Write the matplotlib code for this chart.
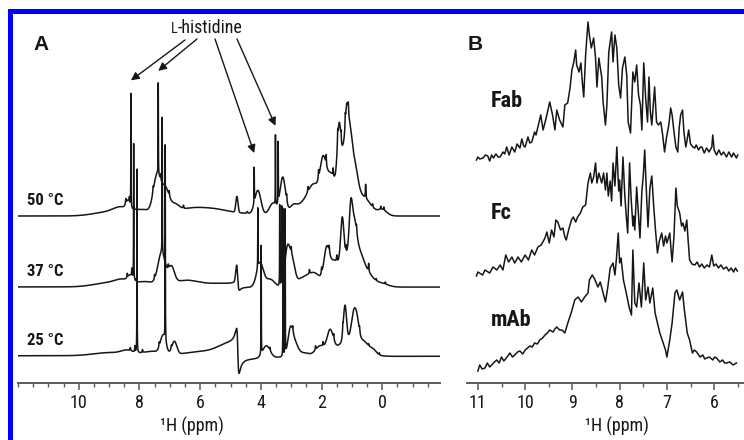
import numpy as np
import matplotlib
matplotlib.use("Agg")
import matplotlib.pyplot as plt
from matplotlib.patches import Rectangle
from matplotlib.ticker import MultipleLocator
from matplotlib.offsetbox import TextArea, HPacker, AnnotationBbox
from matplotlib import font_manager

# ---------------------------------------------------------------------------
# Panel A: 1H spectra at three temperatures, described as peak lists
# Gaussian bands: (ppm, height, sigma); sharp lines: (ppm, height, hwhm)
# ---------------------------------------------------------------------------
temps = ["50 °C", "37 °C", "25 °C"]

t50_bands = [(9.0, 4, 0.5), (8.6, 6, 0.25), (8.38, 8, 0.06), (7.9, 6, 0.3),
             (7.42, 38, 0.12), (7.15, 24, 0.12), (6.85, 8, 0.15), (6.3, 7, 0.5),
             (5.5, 3, 0.4), (5.0, 3, 0.8), (4.79, 16, 0.035), (4.1, 24, 0.1),
             (3.6, 12, 0.12), (3.28, 38, 0.09), (2.95, 8, 0.12), (2.65, 10, 0.2),
             (2.25, 30, 0.2), (1.95, 42, 0.1), (1.72, 25, 0.12), (1.2, 45, 0.35),
             (1.42, 55, 0.06), (1.29, 15, 0.04), (1.17, 62, 0.06), (1.05, 30, 0.06),
             (0.92, 22, 0.1), (0.5, 10, 0.2), (0.0, 6, 0.15)]
t50_lines = [(8.28, 114, 0.004), (7.38, 93, 0.004), (4.22, 37, 0.004),
             (3.52, 70, 0.004), (3.43, 61, 0.004),
             (8.45, 5, 0.01), (8.33, 6, 0.008), (8.18, 4, 0.01), (7.55, 5, 0.01),
             (7.3, 6, 0.01), (7.02, 5, 0.01), (6.55, 3, 0.01), (4.45, 2, 0.02),
             (3.15, 6, 0.01), (2.45, 5, 0.01), (2.1, 8, 0.01), (1.85, 10, 0.01),
             (1.62, 8, 0.01), (1.47, 12, 0.008), (1.36, 8, 0.008), (1.22, 10, 0.008),
             (1.12, 8, 0.008), (0.55, 14, 0.01), (0.32, 3, 0.01), (0.05, 3, 0.01),
             (-0.05, 3, 0.01)]
t50_disp = []

t37_bands = [(9.0, 4, 0.5), (8.55, 5, 0.25), (8.3, 6, 0.08), (7.8, 5, 0.3),
             (7.27, 32, 0.12), (6.95, 17, 0.1), (6.5, 6, 0.4), (5.4, 3, 0.6),
             (4.80, 15, 0.03), (4.03, 24, 0.11), (3.7, 8, 0.15), (3.12, 40, 0.09),
             (2.95, 20, 0.08), (2.65, 8, 0.2), (2.25, 13, 0.2), (1.83, 32, 0.09),
             (1.62, 10, 0.1), (1.1, 35, 0.4), (1.32, 40, 0.05), (1.04, 40, 0.05),
             (0.93, 32, 0.08), (0.75, 10, 0.12), (0.5, 6, 0.2), (0.0, 3, 0.2)]
t37_lines = [(8.19, 142, 0.004), (8.25, 8, 0.008), (7.25, 138, 0.004),
             (4.10, 60, 0.004), (3.38, 84, 0.004), (3.31, 79, 0.004),
             (8.4, 4, 0.01), (8.1, 3, 0.01), (7.5, 4, 0.01), (7.05, 4, 0.01),
             (3.0, 6, 0.01), (2.4, 4, 0.01), (2.0, 6, 0.01), (1.75, 6, 0.01),
             (1.5, 6, 0.01), (1.2, 6, 0.008), (0.85, 6, 0.01), (0.45, 8, 0.01),
             (0.2, 2, 0.01), (-0.1, 2, 0.01)]
t37_disp = [(4.76, 5, 0.04)]

t25_bands = [(9.0, 3, 0.5), (8.4, 4, 0.2), (7.6, 4, 0.3), (7.22, 18, 0.09),
             (6.85, 13, 0.08), (6.0, 3, 0.5), (5.1, 8, 0.35), (3.82, 12, 0.12),
             (3.03, 26, 0.08), (2.88, 12, 0.1), (2.6, 4, 0.2), (2.05, 10, 0.15),
             (1.72, 22, 0.1), (1.05, 18, 0.4), (1.23, 35, 0.05), (0.93, 28, 0.08),
             (0.82, 12, 0.06), (0.6, 6, 0.15), (0.3, 4, 0.1)]
t25_lines = [(8.08, 185, 0.004), (7.15, 196, 0.004), (3.99, 110, 0.004),
             (3.27, 150, 0.004), (3.20, 145, 0.004),
             (8.15, 6, 0.008), (8.3, 3, 0.01), (7.9, 3, 0.01), (7.35, 4, 0.01),
             (6.95, 3, 0.01), (3.7, 3, 0.01), (2.95, 5, 0.01), (2.2, 4, 0.01),
             (1.95, 4, 0.01), (1.6, 5, 0.01), (1.3, 6, 0.008), (0.75, 5, 0.01),
             (0.45, 2, 0.01), (0.1, 2, 0.01)]
t25_disp = [(4.76, 22, 0.04)]

# L-histidine resonances at 50 °C that the arrows point to
his_ppm_50 = [8.28, 7.38, 4.22, 3.52]

# ---------------------------------------------------------------------------
# Panel B: aromatic region, traces as (ppm, intensity) vertices
# ---------------------------------------------------------------------------
fab_trace = [(11.03, 2), (11.0, 5), (10.96, 3), (10.89, 4), (10.84, 7), (10.79, 6),
             (10.75, 1), (10.71, 7), (10.67, 4), (10.62, 8), (10.57, 5), (10.53, 5),
             (10.47, 10), (10.43, 8), (10.39, 15), (10.34, 7), (10.28, 15), (10.22, 10),
             (10.17, 18), (10.11, 14), (10.07, 23), (10.03, 16), (10.0, 15), (9.94, 25),
             (9.9, 19), (9.86, 20), (9.8, 30), (9.77, 27), (9.73, 35), (9.67, 47),
             (9.62, 32), (9.55, 45), (9.48, 60), (9.42, 47), (9.37, 32), (9.33, 52),
             (9.27, 42), (9.2, 35), (9.16, 57), (9.1, 59), (9.05, 74), (9.01, 92),
             (8.97, 100), (8.93, 112), (8.91, 97), (8.86, 90), (8.82, 99), (8.79, 80),
             (8.76, 65), (8.72, 107), (8.67, 140), (8.64, 127), (8.6, 114), (8.55, 124),
             (8.51, 104), (8.48, 75), (8.44, 104), (8.38, 85), (8.35, 60), (8.3, 37),
             (8.27, 57), (8.23, 110), (8.17, 130), (8.14, 100), (8.1, 127), (8.06, 114),
             (8.02, 77), (7.98, 64), (7.94, 94), (7.89, 105), (7.85, 87), (7.82, 40),
             (7.77, 29), (7.72, 90), (7.68, 80), (7.64, 97), (7.6, 67), (7.56, 57),
             (7.53, 32), (7.49, 99), (7.45, 64), (7.41, 40), (7.38, 85), (7.35, 50),
             (7.32, 37), (7.26, 75), (7.22, 40), (7.18, 37), (7.13, 40), (7.09, 27),
             (7.05, 10), (7.01, 24), (6.96, 37), (6.92, 54), (6.89, 47), (6.85, 30),
             (6.81, 15), (6.77, 10), (6.74, 34), (6.71, 47), (6.67, 52), (6.64, 30),
             (6.6, 15), (6.58, 20), (6.54, 32), (6.5, 18), (6.45, 15), (6.41, 14),
             (6.38, 17), (6.33, 12), (6.29, 15), (6.26, 15), (6.21, 9), (6.16, 14),
             (6.11, 10), (6.05, 15), (6.03, 27), (6.0, 12), (5.95, 7), (5.9, 12),
             (5.85, 7), (5.8, 10), (5.74, 5), (5.69, 10), (5.63, 5), (5.59, 9),
             (5.53, 4), (5.5, 7)]

fc_trace = [(11.03, 0), (11.0, 4), (10.9, 1), (10.85, 6), (10.75, 3), (10.68, 9),
            (10.6, 6), (10.53, 11), (10.47, 6), (10.41, 21), (10.35, 14), (10.28, 19),
            (10.22, 13), (10.15, 19), (10.08, 14), (10.0, 21), (9.93, 16), (9.86, 26),
            (9.8, 21), (9.73, 29), (9.66, 31), (9.58, 38), (9.54, 44), (9.49, 33),
            (9.44, 46), (9.39, 39), (9.35, 56), (9.31, 54), (9.25, 46), (9.2, 48),
            (9.16, 39), (9.13, 36), (9.08, 46), (9.02, 56), (8.98, 59), (8.93, 54),
            (8.89, 59), (8.83, 63), (8.78, 69), (8.72, 71), (8.67, 93), (8.62, 103),
            (8.59, 93), (8.55, 99), (8.51, 113), (8.48, 93), (8.44, 103), (8.38, 93),
            (8.34, 103), (8.3, 86), (8.27, 103), (8.24, 80), (8.2, 95), (8.17, 75),
            (8.14, 113), (8.1, 90), (8.06, 129), (8.02, 85), (8.0, 96), (7.97, 70),
            (7.93, 119), (7.89, 80), (7.86, 60), (7.83, 43), (7.79, 113), (7.76, 80),
            (7.72, 50), (7.7, 60), (7.68, 46), (7.64, 89), (7.6, 60), (7.57, 38),
            (7.53, 85), (7.5, 100), (7.47, 126), (7.43, 80), (7.4, 49), (7.36, 88),
            (7.32, 100), (7.28, 70), (7.24, 45), (7.2, 23), (7.16, 35), (7.11, 43),
            (7.07, 30), (7.03, 40), (7.0, 33), (6.94, 43), (6.91, 25), (6.89, 14),
            (6.85, 40), (6.81, 88), (6.78, 70), (6.73, 63), (6.69, 50), (6.66, 53),
            (6.62, 45), (6.58, 56), (6.55, 35), (6.52, 16), (6.47, 12), (6.41, 11),
            (6.36, 14), (6.31, 9), (6.26, 12), (6.21, 8), (6.15, 11), (6.1, 9),
            (6.05, 21), (6.01, 10), (5.96, 12), (5.91, 8), (5.86, 11), (5.8, 7),
            (5.74, 9), (5.69, 5), (5.64, 8), (5.59, 4), (5.55, 8), (5.51, 5)]

mab_trace = [(11.0, 0), (10.96, 6), (10.91, 2), (10.85, 3), (10.8, 8), (10.75, 4),
             (10.71, 6), (10.65, 9), (10.6, 11), (10.55, 8), (10.5, 14), (10.45, 10),
             (10.4, 13), (10.32, 18), (10.27, 14), (10.22, 16), (10.16, 19), (10.11, 20),
             (10.05, 17), (10.0, 21), (9.95, 23), (9.9, 25), (9.85, 24), (9.8, 28),
             (9.74, 27), (9.69, 31), (9.63, 33), (9.58, 36), (9.53, 38), (9.48, 41),
             (9.41, 39), (9.37, 42), (9.33, 44), (9.27, 41), (9.22, 41), (9.16, 38),
             (9.09, 49), (9.02, 59), (8.95, 71), (8.88, 74), (8.81, 69), (8.74, 74),
             (8.67, 78), (8.64, 91), (8.58, 96), (8.53, 92), (8.46, 84), (8.41, 89),
             (8.35, 78), (8.3, 69), (8.25, 84), (8.2, 103), (8.14, 108), (8.1, 96),
             (8.07, 111), (8.03, 138), (8.0, 108), (7.97, 113), (7.92, 91), (7.86, 78),
             (7.8, 64), (7.75, 56), (7.72, 121), (7.68, 68), (7.64, 64), (7.59, 88),
             (7.54, 64), (7.49, 108), (7.45, 71), (7.4, 84), (7.36, 68), (7.3, 83),
             (7.25, 58), (7.2, 48), (7.15, 38), (7.1, 31), (7.03, 21), (7.0, 14),
             (6.94, 31), (6.89, 48), (6.83, 78), (6.79, 81), (6.73, 71), (6.67, 79),
             (6.63, 61), (6.57, 38), (6.52, 31), (6.46, 18), (6.42, 21), (6.37, 19),
             (6.3, 14), (6.24, 16), (6.2, 12), (6.16, 13), (6.1, 14), (6.03, 11),
             (5.99, 14), (5.95, 13), (5.88, 9), (5.82, 11), (5.78, 8), (5.74, 8),
             (5.67, 9), (5.6, 6), (5.53, 8)]

samples_b = ["Fab", "Fc", "mAb"]

# tick values
ticks_a = [10, 8, 6, 4, 2, 0]
ticks_b = [11, 10, 9, 8, 7, 6]

# ---------------------------------------------------------------------------
# layout (pixels of a 744 x 440 canvas)
# ---------------------------------------------------------------------------
W, H = 744, 440
offsets_a = [167, 96, 27]
offsets_b = [221, 107, 12]
ink = "#161616"
axis_grey = "#5a5a5a"


def condensed_font(bold):
    """Narrow/condensed sans face if one is installed, else Liberation Sans."""
    want = 700 if bold else 400
    prefer = ["Liberation Sans Narrow", "Roboto Condensed", "Open Sans Condensed",
              "Noto Sans", "DejaVu Sans", "Open Sans", "Roboto", "Lato", "Inter"]
    found = []
    for f in font_manager.fontManager.ttflist:
        fn = f.fname.lower()
        if ("narrow" in fn or "condensed" in fn) and "semicondensed" not in fn \
                and "extracondensed" not in fn and "italic" not in fn \
                and "oblique" not in fn and f.style == "normal":
            w = f.weight if isinstance(f.weight, int) else (700 if "bold" in str(f.weight) else 400)
            if abs(w - want) <= 100:
                rank = next((i for i, p in enumerate(prefer) if f.name.startswith(p)), 99)
                found.append((rank, f.fname))
    if found:
        found.sort()
        return font_manager.FontProperties(fname=found[0][1])
    return font_manager.FontProperties(family="Liberation Sans",
                                       weight="bold" if bold else "normal")


def gauss(x, c, h, s):
    return h * np.exp(-0.5 * ((x - c) / s) ** 2)


def lorentz(x, c, h, w):
    return h / (1.0 + ((x - c) / w) ** 2)


def dispersion(x, c, a, w):
    d = (x - c) / w
    return a * 2.0 * d / (1.0 + d ** 2)


def spectrum(x, bands, lines, disp):
    y = np.zeros_like(x)
    for c, h, s in bands:
        y += gauss(x, c, h, s)
    for c, h, w in lines:
        y += lorentz(x, c, h, w)
    for c, a, w in disp:
        y += dispersion(x, c, a, w)
    return y


reg = condensed_font(False)
bold = condensed_font(True)
plt.rcParams["font.family"] = ["Liberation Sans", "DejaVu Sans"]

fig = plt.figure(figsize=(W / 100, H / 100), dpi=100)
fig.patch.set_facecolor("white")

axA = fig.add_axes([18 / W, 1 - 383 / H, (440 - 18) / W, (383 - 15) / H])
axB = fig.add_axes([467 / W, 1 - 383 / H, (743 - 467) / W, (383 - 15) / H])

for ax in (axA, axB):
    ax.patch.set_visible(False)
    for side in ("left", "right", "top"):
        ax.spines[side].set_visible(False)
    ax.spines["bottom"].set_color(axis_grey)
    ax.spines["bottom"].set_linewidth(1.4)
    ax.set_yticks([])
    ax.set_ylim(0, 368)
    ax.xaxis.set_minor_locator(MultipleLocator(0.5))
    ax.tick_params(axis="x", which="major", direction="out", length=5, width=1.1,
                   color=axis_grey, pad=3)
    ax.tick_params(axis="x", which="minor", direction="out", length=3, width=1.0,
                   color=axis_grey)


def style_ticklabels(ax, ticks):
    ax.set_xticks(ticks)
    ax.set_xticklabels([str(t) for t in ticks], fontproperties=reg, fontsize=13, color=ink)


# --- panel A --------------------------------------------------------------
ppm_a = np.linspace(12.0, -1.9, 7000)
axA.set_xlim(12.0, -1.9)
style_ticklabels(axA, ticks_a)

spectra_a = [(t50_bands, t50_lines, t50_disp),
             (t37_bands, t37_lines, t37_disp),
             (t25_bands, t25_lines, t25_disp)]
for (bands, lines, disp), off, lab in zip(spectra_a, offsets_a, temps):
    y = spectrum(ppm_a, bands, lines, disp)
    axA.plot(ppm_a, y + off, color=ink, lw=1.1, solid_joinstyle="round")
    axA.text(11.7, off + 16, lab, fontproperties=bold, fontsize=12, color=ink,
             ha="left", va="center")

# arrows from the label to the histidine peaks of the top trace
y50 = spectrum(ppm_a, t50_bands, t50_lines, t50_disp)
starts = [(185, 400), (197, 401), (215, 401), (237, 401)]
gaps = [13, 12, 14, 9]
for p, (sx, sy), g in zip(his_ppm_50, starts, gaps):
    top = y50[np.argmin(np.abs(ppm_a - p))] + offsets_a[0]
    axA.annotate("", xy=(p, top + g), xycoords="data",
                 xytext=(sx, sy), textcoords="figure pixels",
                 arrowprops=dict(arrowstyle="-|>", color=ink, lw=1.0,
                                 mutation_scale=12, shrinkA=0, shrinkB=0))

label_box = HPacker(children=[TextArea("L", textprops=dict(fontproperties=reg, fontsize=10, color=ink)),
                              TextArea("-histidine", textprops=dict(fontproperties=reg, fontsize=13, color=ink))],
                    align="baseline", pad=0, sep=0)
fig.add_artist(AnnotationBbox(label_box, (207, 412), xycoords="figure pixels",
                              frameon=False, box_alignment=(0.5, 0.5)))

# --- panel B --------------------------------------------------------------
axB.set_xlim(11.23, 5.39)
style_ticklabels(axB, ticks_b)

for trace, off in zip([fab_trace, fc_trace, mab_trace], offsets_b):
    px, iy = zip(*trace)
    axB.plot(px, np.array(iy) + off, color=ink, lw=1.1, solid_joinstyle="round")

label_pos_b = [(10.72, 282), (10.72, 170), (10.72, 63)]
for name, (lx, ly) in zip(samples_b, label_pos_b):
    axB.text(lx, ly, name, fontproperties=bold, fontsize=16, color=ink,
             ha="left", va="center")

# --- axis titles and panel letters ---------------------------------------
fig.text(192 / W, 1 - 426 / H, "¹H (ppm)", fontproperties=reg, fontsize=13, color=ink,
         ha="center", va="center")
fig.text(617 / W, 1 - 426 / H, "¹H (ppm)", fontproperties=reg, fontsize=13, color=ink,
         ha="center", va="center")
fig.text(33 / W, 1 - 45 / H, "A", family="Liberation Sans", fontsize=15,
         fontweight="bold", color=ink, ha="left", va="center")
fig.text(468 / W, 1 - 45 / H, "B", family="Liberation Sans", fontsize=15,
         fontweight="bold", color=ink, ha="left", va="center")

# --- blue frame -----------------------------------------------------------
fig.add_artist(Rectangle((8 / W, 0), 5 / W, (H - 9) / H, transform=fig.transFigure,
                         facecolor="#0000ff", edgecolor="none"))
fig.add_artist(Rectangle((8 / W, 1 - 14 / H), (W - 8) / W, 5 / H, transform=fig.transFigure,
                         facecolor="#0000ff", edgecolor="none"))

fig.savefig("out.png", dpi=100, facecolor="white")
